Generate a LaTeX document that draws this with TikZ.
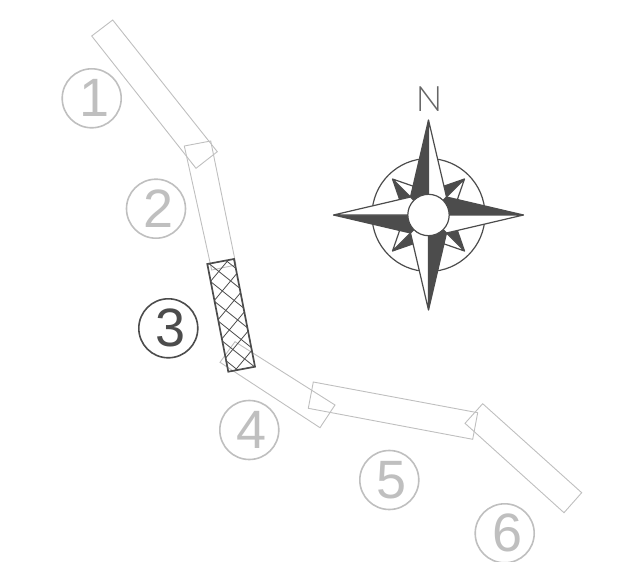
\documentclass[tikz,border=0pt]{standalone}
\usepackage{fontspec}
\setmainfont{Liberation Sans}
\newfontfamily\thinfont{Lato Light}
\usepackage{xcolor}
\usetikzlibrary{calc}
\colorlet{ghost}{black!25}
\colorlet{inked}{black!70}
\tikzset{
  numdisc/.style={circle,draw,line width=1.6pt,minimum size=59pt,inner sep=0pt,font=\fontsize{54}{54}\selectfont},
  segment/.style={draw=ghost,line width=0.9pt},
  compassline/.style={inked,line width=1.2pt,line join=round},
}
\newcommand{\compasspoint}[1]{%
  \begin{scope}[shift={(428.5,215)},rotate=#1]
  % small diagonal point first, the main point goes over it
  \fill[inked] (-36,-36) -- (-28,-13) -- (0,0) -- cycle;
  \draw[compassline,fill=white] (-36,-36) -- (-13,-28) -- (0,0) -- cycle;
  \draw[compassline] (-36,-36) -- (-28,-13);
  \end{scope}}
\newcommand{\compassmain}[2]{%
  \begin{scope}[shift={(428.5,215)},rotate=#1]
  \fill[inked] (0,-95) -- (-18,-18) -- (0,0) -- cycle;
  \draw[compassline,fill=white] (0,-95) -- (18,-18) -- (0,0) -- cycle;
  \draw[compassline] (0,-95) -- (-18,-18);
  \foreach \yy in {#2}{ \draw[white,opacity=0.35,line width=0.4pt] (-14,\yy) -- (0,\yy); }
  \end{scope}}

\begin{document}
\begin{tikzpicture}[x=1pt,y=-1pt]
\useasboundingbox (0,0) rectangle (622,562);
% the six segments
\foreach \ax/\ay/\bx/\by/\cx/\cy/\dx/\dy in {
  112.7/20/91.7/36/196/168.3/217.3/151.7,
  184.3/146/210.7/141/236/265/211.7/270,
  220/362.3/235/341.7/335/405/320/427.7,
  313.3/382/308.3/408.3/472.7/439.3/477.7/412.7,
  482.7/403.7/465/423.3/564/512.7/581.7/492.7}{
  \draw[segment] (\ax,\ay) -- (\bx,\by) -- (\cx,\cy) -- (\dx,\dy) -- cycle;
}
% segment in dark with its crossed hatch
\begin{scope}
  \clip (207.3,264) -- (234,259) -- (255,366.7) -- (228.3,371.7) -- cycle;
  \foreach \k in {-3,...,7}{
    \draw[inked,line width=0.8pt] ($(207,262)+(\k*3.5,\k*19.5)$) ++(-50,-40) -- ++(100,80);
    \draw[inked,line width=0.8pt] ($(210,282)+(\k*3.5,\k*19.5)$) ++(-50,60) -- ++(100,-120);
  }
\end{scope}
\draw[inked,line width=1.7pt,line join=miter] (207.3,264) -- (234,259) -- (255,366.7) -- (228.3,371.7) -- cycle;
% numbers
\node[numdisc,ghost] (one) at (91.7,98.3) {\kern5pt 1};
\node[numdisc,ghost] (two) at (156,208.7) {\kern5pt 2};
\node[numdisc,inked] (three) at (168.3,328.3) {\kern5pt 3};
\node[numdisc,ghost] (four) at (249.3,430) {\kern5pt 4};
\node[numdisc,ghost] (five) at (389.3,480) {\kern5pt 5};
\node[numdisc,ghost] (six) at (504.7,533.3) {\kern5pt 6};
% compass
\draw[compassline,fill=white] (428.5,215) circle (56.5);
\foreach \ang in {0,90,180,270}{ \compasspoint{\ang} }
\foreach \ang/\rows in {0/{-36,-24},-90/{-36,-30,-25,-21},-180/{-36,-24},-270/{-36,-30,-25,-21}}{ \compassmain{\ang}{\rows} }
\draw[compassline,fill=white] (428.5,215) circle (20.7);
\node[text=black!60,font=\thinfont\fontsize{35}{35}\selectfont,inner sep=0pt] (north) at (429,99.5) {N};
\end{tikzpicture}
\end{document}
